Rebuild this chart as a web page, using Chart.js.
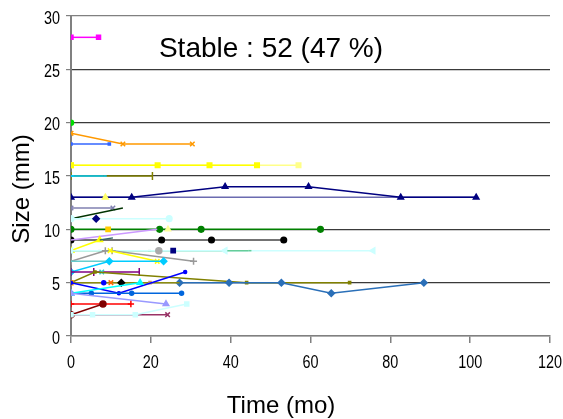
<!DOCTYPE html>
<html>
<head>
<meta charset="utf-8">
<script src="https://cdn.jsdelivr.net/npm/chart.js@4"></script>
<style>
  body{margin:0;background:#fff;}
  #wrap{width:563px;height:419px;}
</style>
</head>
<body>
<div id="wrap"><canvas id="c" width="563" height="419"></canvas></div>
<script>
// tick labels
const xTicks = [0,20,40,60,80,100,120];
const yTicks = [0,5,10,15,20,25,30];

// one array per tumour: [time (mo), size (mm)]
const pink28 = [[0,28],[6.9,28]];
const green20 = [[0,20]];
const orange19 = [[0,19],[13,18],[30.4,18]];
const blue18 = [[0,18],[9.6,18]];
const paleYellow16 = [[0,16],[57,16]];
const yellow16 = [[0,16],[21.7,16],[34.7,16],[46.6,16]];
const olive15 = [[0,15],[20.4,15]];
const sky15 = [[0,15],[8.2,15]];
const slate13 = [[0,13],[101.5,13]];
const navy13 = [[0,13],[15.2,13],[38.6,14],[59.5,14],[82.6,13],[101.5,13]];
const paleTri13 = [[8.6,13]];
const grape12 = [[0,12],[10.5,12]];
const forest11 = [[0,11],[13,12]];
const ice11 = [[0,11],[24.6,11]];
const navyDot11 = [[6.3,11]];
const green10 = [[0,10],[22.2,10],[32.6,10],[62.5,10]];
const gold10 = [[9.3,10]];
const cream10 = [[24.3,10]];
const lilac9 = [[0,9],[21.6,10]];
const black9 = [[0,9],[22.7,9],[35.2,9],[53.3,9]];
const yellowTri8 = [[0,8],[7.2,9]];
const teal9 = [[7.2,9],[10.5,9.2]];
const iceLong8 = [[38.6,8],[75.7,8]];
const sea8 = [[0,8],[6.8,8],[19.3,8],[44.4,8]];
const ice8 = [[0,8],[38.6,8]];
const navySq8 = [[25.6,8]];
const grey7 = [[0,7],[8.6,8],[10.3,8],[30.7,7]];
const greyDot8 = [[22,8]];
const yellowX8 = [[9.8,8],[21.6,7]];
const turq7 = [[0,7],[9.5,7]];
const sky6 = [[0,6],[9.6,7],[23.2,7]];
const purple6 = [[0,6],[5.7,6],[17.1,6]];
const aquaX6 = [[7.7,6]];
const olive5 = [[0,5],[6,6],[44,5],[69.8,5]];
const oliveFlat5 = [[0,5],[27.2,5]];
const steel5 = [[27.2,5],[39.6,5],[52.7,5],[65.2,4],[88.4,5]];
const orangeSq5 = [[0,5]];
const orangeX5 = [[10,5]];
const blackDia5 = [[12.6,5]];
const tan5 = [[19.8,5]];
const blue5 = [[0,5],[12,4],[28.6,6]];
const blueDot5 = [[8.2,5]];
const royal4 = [[0,4],[5.1,4],[15.2,4],[27.7,4]];
const cyan4 = [[0,4],[17.3,5]];
const periwinkle4 = [[0,4],[23.8,3]];
const red3 = [[0,3],[15,3]];
const maroon2 = [[0,2],[8,3]];
const plum2 = [[0,2],[24.2,2]];
const ice2 = [[0,2],[5.4,2],[16.1,2],[29,3]];

// drawing list, bottom first
const series = [
  [slate13,'#6b6bb0','line',0],
  [navy13,'#000080','triangle',3.2],
  [paleTri13,'#ffff66','triangle',3.2],
  [pink28,'#ff00ff','rect',2.8],
  [green20,'#00dd00','circle',2.5],
  [orange19,'#ff9900','crossRot',3.2],
  [blue18,'#3366ff','rect',1.5],
  [paleYellow16,'#ffff88','rect',3.2],
  [yellow16,'#ffff00','rect',3.2],
  [olive15,'#808000','line',4,90],
  [sky15,'#00ccff','dash',3],
  [grape12,'#8080b0','crossRot',3.2],
  [forest11,'#003300','line',0],
  [ice11,'#ccffff','circle',2.8],
  [navyDot11,'#000080','rectRot',3.2],
  [green10,'#008000','circle',2.8],
  [gold10,'#ffcc00','rect',3],
  [cream10,'#ffff99','triangle',3],
  [black9,'#444444','circle',2.8,0,'#000000'],
  [lilac9,'#cc99ff','line',0],
  [yellowTri8,'#ffff00','triangle',3.2],
  [teal9,'#336666','line',0],
  [iceLong8,'#ccffff','triangle',3.2,-90],
  [sea8,'#66cc99','dash',3.2],
  [ice8,'#ccffff','triangle',3,-90],
  [navySq8,'#000080','rect',3],
  [grey7,'#999999','cross',3.5],
  [greyDot8,'#aaaaaa','circle',3],
  [yellowX8,'#ffff00','crossRot',3.2],
  [turq7,'#66cccc','line',0],
  [sky6,'#00ccff','rectRot',3.2],
  [purple6,'#800080','line',4,90],
  [aquaX6,'#33cccc','crossRot',3.2],
  [olive5,'#808000','rect',1.5],
  [steel5,'#2a6fb8','rectRot',3.2],
  [oliveFlat5,'#8c8c10','rect',0],
  [orangeSq5,'#ff9900','rect',2.8],
  [orangeX5,'#ff6600','crossRot',3.2],
  [blackDia5,'#000000','rectRot',3.2],
  [tan5,'#cc9966','rect',1.5],
  [blue5,'#0000ff','circle',1.5],
  [blueDot5,'#0000ff','circle',2],
  [royal4,'#0066dd','circle',2],
  [cyan4,'#00ffff','triangle',3.2],
  [periwinkle4,'#9999ff','triangle',3.2],
  [red3,'#ff0000','cross',3.2],
  [maroon2,'#800000','circle',3],
  [plum2,'#993366','crossRot',3.2],
  [ice2,'#ccffff','rect',2.8]
];

const datasets = series.map(([pts,color,style,r,rot,fill]) => ({
  data: pts.map(p => ({x:p[0], y:p[1]})),
  showLine: true,
  borderColor: color,
  backgroundColor: fill || color,
  pointBorderColor: fill || color,
  borderWidth: 1.5,
  pointStyle: style,
  pointRadius: r,
  pointRotation: rot || 0,
  pointBorderWidth: 1.5
})).reverse();

const sans = "'Liberation Sans', Arial, sans-serif";

// tick labels are drawn squeezed like the narrow font of the original
function squeezed(ctx, text, x, y, align){
  ctx.save();
  ctx.translate(x, y);
  ctx.scale(0.8, 1);
  ctx.textAlign = align;
  ctx.fillText(text, 0, 0);
  ctx.restore();
}

const labels = {
  id:'labels',
  afterDraw(chart){
    const ctx = chart.ctx;
    const sx = chart.scales.x, sy = chart.scales.y;
    ctx.save();
    ctx.fillStyle = '#000';
    ctx.textBaseline = 'alphabetic';
    ctx.font = "18px " + sans;
    xTicks.forEach(v => squeezed(ctx, String(v), sx.getPixelForValue(v), 368, 'center'));
    yTicks.forEach(v => squeezed(ctx, String(v), 60, sy.getPixelForValue(v) + 7.5, 'right'));
    ctx.font = "28px " + sans;
    ctx.textAlign = 'center';
    ctx.fillText('Stable : 52 (47 %)', 271, 57);
    ctx.font = "24px " + sans;
    ctx.fillText('Time (mo)', 281, 413);
    ctx.translate(29, 189);
    ctx.rotate(-Math.PI/2);
    ctx.fillText('Size (mm)', 0, 0);
    ctx.restore();
  }
};

new Chart(document.getElementById('c'), {
  type:'scatter',
  data:{datasets},
  plugins:[labels],
  options:{
    responsive:false,
    animation:false,
    layout:{padding:{left:0,right:13,top:16,bottom:0}},
    plugins:{legend:{display:false},tooltip:{enabled:false}},
    scales:{
      x:{
        type:'linear', min:0, max:120,
        afterBuildTicks: s => { s.ticks = xTicks.map(v => ({value:v})); },
        afterFit: s => { s.height = 83; },
        border:{color:'#808080', width:1.5},
        grid:{drawOnChartArea:false, drawTicks:true, tickLength:7, color:'#808080', lineWidth:1.5},
        ticks:{display:false}
      },
      y:{
        type:'linear', min:0, max:30,
        afterBuildTicks: s => { s.ticks = yTicks.map(v => ({value:v})); },
        afterFit: s => { s.width = 71; },
        border:{color:'#808080', width:2},
        grid:{
          color: c => (c.tick && (c.tick.value === 0 || c.tick.value === 30)) ? '#808080' : '#3a3a3a',
          lineWidth:1.2, drawTicks:true, tickLength:5, tickColor:'#808080'
        },
        ticks:{display:false}
      }
    }
  }
});
</script>
</body>
</html>
